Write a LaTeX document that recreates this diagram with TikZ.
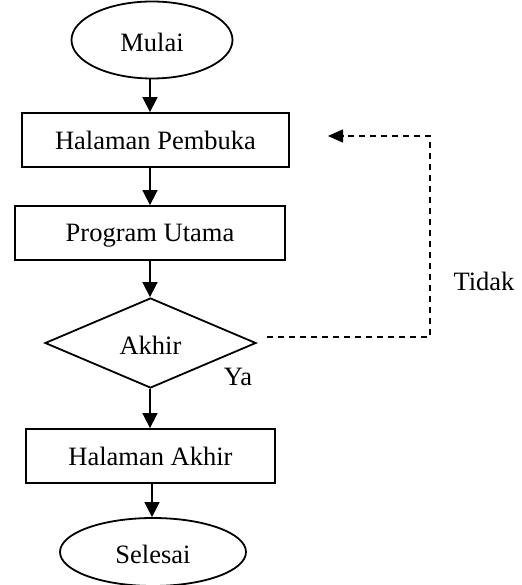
\documentclass[tikz,border=0pt]{standalone}
\usepackage{fontspec}
\setmainfont{Liberation Serif}
\usetikzlibrary{shapes.geometric,arrows.meta}
\begin{document}
\begin{tikzpicture}[x=1pt,y=-1pt,
  every node/.style={font=\fontsize{26.5}{30}\selectfont, inner sep=0pt, text depth=0pt},
  shp/.style={draw, line width=1.8pt},
  boxn/.style={shp, rectangle, minimum height=54pt},
  ell/.style={shp, ellipse},
  dia/.style={shp, diamond, shape aspect=2.3},
  arr/.style={line width=1.6pt, -{Triangle[length=15pt,width=15pt]}},
  darr/.style={line width=1.6pt, dash pattern=on 6pt off 5pt, -{Triangle[length=15pt,width=13pt]}},
  lbl/.style={}
]
\useasboundingbox (0,0) rectangle (521,585);
\coordinate (axis) at (150,0);
\node[ell, minimum width=161pt, minimum height=77pt] (mulai) at (152,40) {\raisebox{-4pt}{Mulai}};
\node[boxn, minimum width=267pt] (pembuka) at (155.5,140) {Halaman Pembuka};
\node[boxn, minimum width=270pt] (utama) at (150,233) {Program Utama};
\node[dia, minimum width=211pt, minimum height=90pt] (akhir) at (150.5,343) {\raisebox{-4pt}{Akhir}};
\node[boxn, minimum width=249pt] (hakhir) at (150.5,456) {Halaman Akhir};
\node[ell, minimum width=186pt, minimum height=68pt] (selesai) at (153,552) {\raisebox{-4pt}{Selesai}};
\node[lbl] (ya) at (238,377) {Ya};
\node[lbl] (tidak) at (484,281) {Tidak};
\coordinate (d1) at (267,337);
\coordinate (d2) at (430,337);
\coordinate (d3) at (430,136);
\coordinate (d4) at (328,136);
\draw[arr] (axis |- mulai.south) -- (axis |- pembuka.north);
\draw[arr] (axis |- pembuka.south) -- (axis |- utama.north);
\draw[arr] (axis |- utama.south) -- (axis |- akhir.north);
\draw[arr] (axis |- akhir.south) -- (axis |- hakhir.north);
\draw[arr] ([xshift=2pt]axis |- hakhir.south) -- ([xshift=2pt]axis |- selesai.north);
\draw[darr] (d1) -- (d2) -- (d3) -- (d4);
\end{tikzpicture}
\end{document}
